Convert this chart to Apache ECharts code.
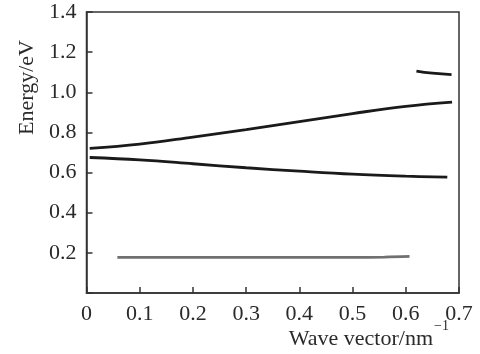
<!DOCTYPE html>
<html><head><meta charset="utf-8">
<script src="https://cdn.jsdelivr.net/npm/echarts@6/dist/echarts.min.js"></script>
<style>html,body{margin:0;padding:0;background:#fff}#c{width:480px;height:354px}</style>
</head><body><div id="c"></div>
<script>
const xTicks = [0, 0.1, 0.2, 0.3, 0.4, 0.5, 0.6, 0.7];
const upperBand = [[0.006,0.721],[0.1,0.742],[0.2,0.777],[0.3,0.814],[0.4,0.854],[0.5,0.894],[0.6,0.930],[0.687,0.951]];
const lowerBand = [[0.006,0.675],[0.1,0.663],[0.2,0.644],[0.3,0.624],[0.4,0.607],[0.5,0.592],[0.6,0.582],[0.678,0.577]];
const topBand = [[0.62,1.106],[0.65,1.095],[0.686,1.088]];
const grayBand = [[0.058,0.177],[0.3,0.177],[0.5,0.1775],[0.56,0.179],[0.607,0.182]];

const chart = echarts.init(document.getElementById('c'));
const font = '"Liberation Serif","Times New Roman",serif';
const tc = '#2a2a2a';
chart.setOption({
  animation:false,
  grid:{left:86.5,top:12,right:21,bottom:61,show:true,borderColor:'#333',borderWidth:1.5,backgroundColor:'transparent'},
  xAxis:{type:'value',min:0,max:0.7,interval:0.1,
    axisLine:{lineStyle:{color:'#333',width:1.5}},
    axisTick:{inside:true,length:6,lineStyle:{color:'#333',width:1.5}},
    axisLabel:{fontFamily:font,fontSize:22,color:tc,margin:10,formatter:v=>String(+v.toFixed(1))},
    splitLine:{show:false}},
  yAxis:{type:'value',min:0,max:1.4,interval:0.2,
    axisLine:{show:true,lineStyle:{color:'#333',width:1.5}},
    axisTick:{show:true,inside:true,length:6,lineStyle:{color:'#333',width:1.5}},
    axisLabel:{fontFamily:font,fontSize:22,color:tc,margin:10,formatter:v=>v===0?'':v.toFixed(1)},
    splitLine:{show:false}},
  graphic:[
    {type:'text',x:27.5,y:135,rotation:Math.PI/2,
      style:{text:'Energy/eV',fontFamily:font,fontSize:22,fill:tc,textAlign:'left',textVerticalAlign:'middle'}},
    {type:'text',x:433,y:339,
      style:{text:'Wave vector/nm',fontFamily:font,fontSize:22,fill:tc,textAlign:'right',textVerticalAlign:'middle'}},
    {type:'text',x:434,y:326,
      style:{text:'−1',fontFamily:font,fontSize:14,fill:tc,textAlign:'left',textVerticalAlign:'middle'}}
  ],
  series:[
    {type:'line',data:upperBand,smooth:0.4,symbol:'none',lineStyle:{color:'#1a1a1a',width:2.8}},
    {type:'line',data:lowerBand,smooth:0.4,symbol:'none',lineStyle:{color:'#1a1a1a',width:2.8}},
    {type:'line',data:topBand,smooth:true,symbol:'none',lineStyle:{color:'#1a1a1a',width:2.8}},
    {type:'line',data:grayBand,smooth:0.4,symbol:'none',lineStyle:{color:'#707070',width:2.8}}
  ]
});
</script></body></html>
